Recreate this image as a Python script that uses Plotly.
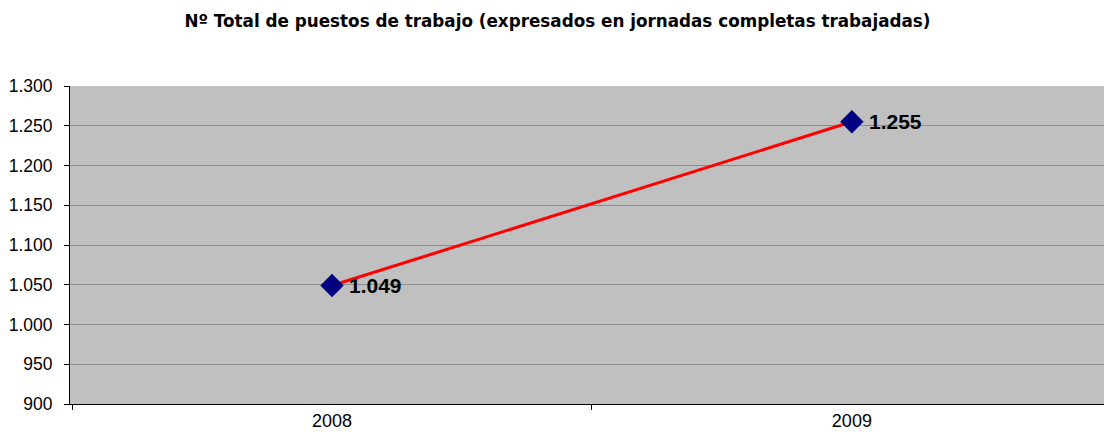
import plotly.graph_objects as go

years = ["2008", "2009"]
puestos = [1049, 1255]
y_ticks = [900, 950, 1000, 1050, 1100, 1150, 1200, 1250, 1300]

x_idx = list(range(len(years)))
labels = [f"{v:,}".replace(",", ".") for v in puestos]

fig = go.Figure()
fig.add_trace(go.Scatter(
    x=x_idx, y=puestos,
    mode="lines+markers",
    line=dict(color="#ff0000", width=3),
    marker=dict(symbol="diamond", size=18, color="#000080"),
    cliponaxis=False,
    showlegend=False,
))

for xi, yv, lab in zip(x_idx, puestos, labels):
    fig.add_annotation(
        x=xi, y=yv, text=f"<b>{lab}</b>", showarrow=False,
        xanchor="left", yanchor="middle", xshift=15,
        font=dict(family="Liberation Sans, Arial", size=21, color="black"),
    )

fig.update_layout(
    width=1104, height=440,
    autosize=False,
    margin=dict(l=70, r=0, t=86, b=36),
    paper_bgcolor="white",
    plot_bgcolor="#c0c0c0",
    separators=",.",
    title=dict(
        text="<b>Nº Total de puestos de trabajo (expresados en jornadas completas trabajadas)</b>",
        x=0.505, xanchor="center", y=0.953, yanchor="middle",
        font=dict(family="DejaVu Sans", size=16.8, color="black"),
    ),
    font=dict(family="Liberation Sans, Arial", size=16, color="black"),
)

fig.update_xaxes(
    range=[-0.504, 1.485],
    tickmode="array", tickvals=x_idx, ticktext=years,
    ticks="", showgrid=False, zeroline=False,
    showline=True, linecolor="black", linewidth=1,
    minor=dict(tickmode="array", tickvals=[-0.5, 0.5, 1.5], ticks="outside",
               ticklen=5, tickcolor="black", showgrid=False),
    tickfont=dict(size=18),
)
fig.update_yaxes(
    range=[900, 1300],
    tickmode="array", tickvals=y_ticks,
    tickformat=",d",
    ticks="outside", ticklen=5, tickcolor="black",
    showgrid=True, gridcolor="#8c8c8c", gridwidth=1,
    zeroline=False,
    showline=True, linecolor="black", linewidth=1,
    ticklabelstandoff=8,
    tickfont=dict(size=17.5),
)

fig.write_html(
    "out.html",
    config={"displayModeBar": False},
    post_script="document.body.style.margin='0';document.body.style.overflow='hidden';",
)
